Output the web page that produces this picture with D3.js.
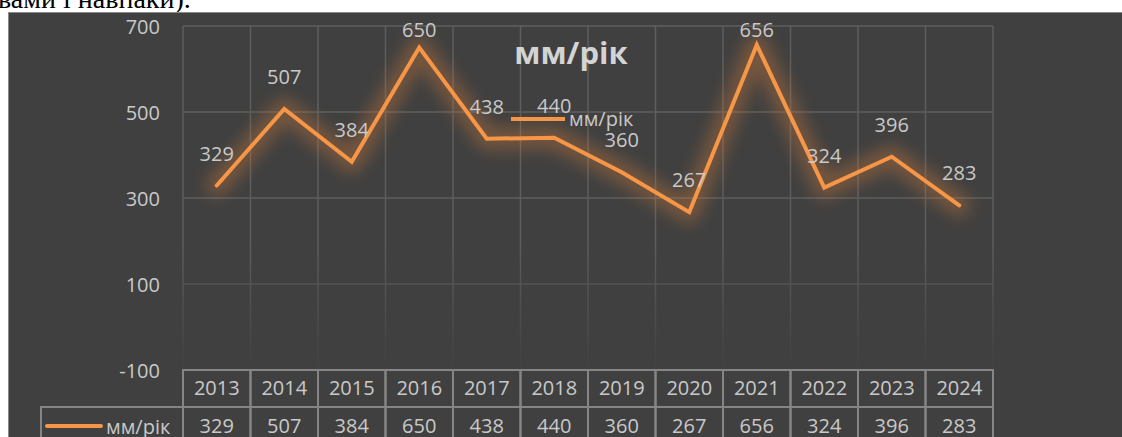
<!DOCTYPE html>
<html>
<head>
<meta charset="utf-8">
<script src="https://cdn.jsdelivr.net/npm/d3@7"></script>
<style>
  body { margin: 0; background: #fff; }
  svg { display: block; }
  .tick text { font-family: 'Open Sans', sans-serif; }
</style>
</head>
<body>
<div id="chart"></div>
<script>
// data
const years = ['2013', '2014', '2015', '2016', '2017', '2018', '2019', '2020', '2021', '2022', '2023', '2024'];
const values = [329, 507, 384, 650, 438, 440, 360, 267, 656, 324, 396, 283];
const yTicks = [-100, 100, 300, 500, 700];
const seriesName = 'мм/рік';
const chartTitle = 'мм/рік';
const pageText = 'вами і навпаки).';

let svgWidth = 1122;
let svgHeight = 437;

//plot area edges
let plot = { left: 183, right: 993, top: 26, bottom: 370 };
let rowH = 37;
let orange = '#f79646';
let textColor = '#c9c9c9';
let font = "'Open Sans', sans-serif";

let svg = d3.select('#chart')
    .append('svg')
    .attr('width', svgWidth)
    .attr('height', svgHeight);

let defs = svg.append('defs');

//soft glow round the line
let glow = defs.append('filter')
    .attr('id', 'glow')
    .attr('x', '-20%').attr('y', '-50%')
    .attr('width', '140%').attr('height', '200%');
glow.append('feGaussianBlur').attr('stdDeviation', 8);

//gridlines fade out toward the bottom
let fade = defs.append('linearGradient')
    .attr('id', 'fade')
    .attr('gradientUnits', 'userSpaceOnUse')
    .attr('x1', 0).attr('x2', 0)
    .attr('y1', 240).attr('y2', 368);
fade.append('stop').attr('offset', 0).attr('stop-color', '#fff');
fade.append('stop').attr('offset', 1).attr('stop-color', '#fff').attr('stop-opacity', 0.05);
defs.append('mask').attr('id', 'gridMask')
    .append('rect')
    .attr('x', 0).attr('y', 0)
    .attr('width', svgWidth).attr('height', svgHeight)
    .attr('fill', 'url(#fade)');

//text of the page above the chart
svg.append('text')
    .attr('x', -2)
    .attr('y', 8)
    .attr('font-family', "'Liberation Serif', serif")
    .attr('font-size', 28)
    .attr('fill', '#000')
    .text(pageText);

//dark chart panel
svg.append('rect')
    .attr('x', 8.5)
    .attr('y', 12.5)
    .attr('width', svgWidth)
    .attr('height', svgHeight)
    .attr('fill', '#404040')
    .attr('stroke', '#8a8a8a')
    .attr('stroke-width', 1);

//scales
let x = d3.scaleBand()
    .domain(years)
    .range([plot.left, plot.right]);

let y = d3.scaleLinear()
    .domain([-100, 700])
    .range([plot.bottom, plot.top]);

let cx = d => x(d) + x.bandwidth() / 2;

//gridlines
let grid = svg.append('g').attr('mask', 'url(#gridMask)');
grid.selectAll('.hgrid')
    .data(yTicks.filter(t => t > -100))
    .enter()
    .append('line')
    .attr('x1', plot.left).attr('x2', plot.right)
    .attr('y1', d => y(d)).attr('y2', d => y(d))
    .attr('stroke', '#5e5e5e')
    .attr('stroke-width', 1.5);
grid.selectAll('.vgrid')
    .data(years.concat(['end']))
    .enter()
    .append('line')
    .attr('x1', d => d === 'end' ? plot.right : x(d))
    .attr('x2', d => d === 'end' ? plot.right : x(d))
    .attr('y1', plot.top).attr('y2', plot.bottom)
    .attr('stroke', '#5e5e5e')
    .attr('stroke-width', 1.5);

//y axis
let yAxis = d3.axisLeft(y)
    .tickValues(yTicks)
    .tickFormat(d => String(d))
    .tickSize(0)
    .tickPadding(0);
let yg = svg.append('g')
    .attr('transform', 'translate(160,0)')
    .call(yAxis);
yg.select('.domain').remove();
yg.selectAll('text')
    .attr('font-size', 20)
    .attr('fill', textColor)
    .attr('dy', '0.35em');

//line with its glow
let line = d3.line()
    .x((d, i) => cx(years[i]))
    .y(d => y(d));

svg.append('path')
    .datum(values)
    .attr('d', line)
    .attr('fill', 'none')
    .attr('stroke', '#c8783a')
    .attr('stroke-width', 22)
    .attr('stroke-linejoin', 'round')
    .attr('stroke-linecap', 'round')
    .attr('opacity', 0.4)
    .attr('filter', 'url(#glow)');

svg.append('path')
    .datum(values)
    .attr('d', line)
    .attr('fill', 'none')
    .attr('stroke', orange)
    .attr('stroke-width', 4)
    .attr('stroke-linecap', 'round');

//data labels
svg.selectAll('.label')
    .data(values)
    .enter()
    .append('text')
    .attr('x', (d, i) => cx(years[i]))
    .attr('y', d => Math.max(y(d) - 25, 37))
    .attr('text-anchor', 'middle')
    .attr('font-family', font)
    .attr('font-size', 20)
    .attr('fill', textColor)
    .text(d => d);

//title
svg.append('text')
    .attr('x', 571)
    .attr('y', 64)
    .attr('text-anchor', 'middle')
    .attr('font-family', font)
    .attr('font-weight', 'bold')
    .attr('font-size', 31)
    .attr('fill', '#d4d4d4')
    .text(chartTitle);

//legend inside the plot
svg.append('line')
    .attr('x1', 511).attr('x2', 565)
    .attr('y1', 119).attr('y2', 119)
    .attr('stroke', orange)
    .attr('stroke-width', 4);
svg.append('text')
    .attr('x', 569)
    .attr('y', 126)
    .attr('font-family', font)
    .attr('font-size', 20)
    .attr('fill', textColor)
    .text(seriesName);

//data table below the plot
let table = svg.append('g');
let border = '#858585';

table.selectAll('.hcell')
    .data(years)
    .enter()
    .append('rect')
    .attr('x', d => x(d))
    .attr('y', plot.bottom)
    .attr('width', x.bandwidth())
    .attr('height', rowH)
    .attr('fill', 'none')
    .attr('stroke', border)
    .attr('stroke-width', 2);

table.selectAll('.vcell')
    .data(years)
    .enter()
    .append('rect')
    .attr('x', d => x(d))
    .attr('y', plot.bottom + rowH)
    .attr('width', x.bandwidth())
    .attr('height', rowH)
    .attr('fill', 'none')
    .attr('stroke', border)
    .attr('stroke-width', 2);

table.append('rect')
    .attr('x', 41)
    .attr('y', plot.bottom + rowH)
    .attr('width', plot.left - 41)
    .attr('height', rowH)
    .attr('fill', 'none')
    .attr('stroke', border)
    .attr('stroke-width', 2);

table.selectAll('.year')
    .data(years)
    .enter()
    .append('text')
    .attr('x', d => cx(d))
    .attr('y', plot.bottom + 25)
    .attr('text-anchor', 'middle')
    .attr('font-family', font)
    .attr('font-size', 20)
    .attr('fill', textColor)
    .text(d => d);

table.selectAll('.val')
    .data(values)
    .enter()
    .append('text')
    .attr('x', (d, i) => cx(years[i]))
    .attr('y', plot.bottom + rowH + 26)
    .attr('text-anchor', 'middle')
    .attr('font-family', font)
    .attr('font-size', 20)
    .attr('fill', textColor)
    .text(d => d);

table.append('line')
    .attr('x1', 47).attr('x2', 101)
    .attr('y1', 426).attr('y2', 426)
    .attr('stroke', orange)
    .attr('stroke-width', 4)
    .attr('stroke-linecap', 'round');
table.append('text')
    .attr('x', 106)
    .attr('y', 434)
    .attr('font-family', font)
    .attr('font-size', 20)
    .attr('fill', textColor)
    .text(seriesName);
</script>
</body>
</html>
